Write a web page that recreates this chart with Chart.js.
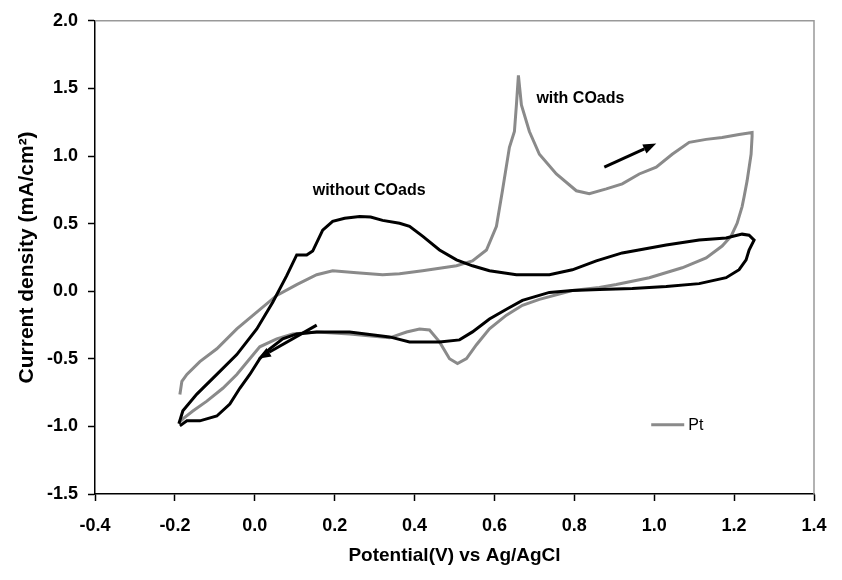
<!DOCTYPE html>
<html>
<head>
<meta charset="utf-8">
<script src="https://cdn.jsdelivr.net/npm/chart.js@4/dist/chart.umd.min.js"></script>
<style>
  html, body { margin: 0; padding: 0; background: #ffffff; }
  #cv { display: block; }
</style>
</head>
<body>
<canvas id="cv" width="842" height="580"></canvas>
<script>
// Cyclic voltammograms of Pt: blank scan (without adsorbed CO) and CO-stripping scan.
// Potential in V vs Ag/AgCl, current density in mA/cm².

const potentialBlank = [
  -0.19, -0.18, -0.145, -0.095, -0.045, 0.005, 0.045, 0.08, 0.105, 0.13, 0.145, 0.17, 0.195,
  0.225, 0.2625, 0.29, 0.32, 0.3625, 0.3875, 0.42, 0.4625, 0.505, 0.545, 0.5875, 0.655, 0.7375, 0.795,
  0.855, 0.92, 1.03, 1.1125, 1.18, 1.22, 1.2375, 1.25, 1.2375, 1.23, 1.2125, 1.18, 1.1125,
  1.03, 0.945, 0.8625, 0.795, 0.7375, 0.67, 0.63, 0.5875, 0.545, 0.5125, 0.4625, 0.3875,
  0.3375, 0.2375, 0.155, 0.105, 0.07, 0.0375, 0.0125, -0.0125, -0.0375, -0.0625, -0.095,
  -0.1375, -0.17, -0.1875
];
const currentBlank = [
  -0.98, -0.885, -0.761, -0.615, -0.469, -0.279, -0.082, 0.115, 0.268, 0.268, 0.297, 0.451, 0.517,
  0.54, 0.553, 0.548, 0.524, 0.502, 0.48, 0.407, 0.305, 0.232, 0.188, 0.151, 0.122, 0.122, 0.158,
  0.224, 0.283, 0.341, 0.378, 0.393, 0.422, 0.414, 0.378, 0.305, 0.232, 0.159, 0.1, 0.056,
  0.034, 0.02, 0.012, 0.005, -0.009, -0.068, -0.133, -0.206, -0.301, -0.36, -0.375, -0.375,
  -0.338, -0.301, -0.301, -0.316, -0.353, -0.426, -0.499, -0.616, -0.718, -0.835, -0.923,
  -0.959, -0.959, -0.996
];

const potentialCO = [
  -0.1875, -0.1825, -0.17, -0.1375, -0.095, -0.045, 0.005, 0.055, 0.105, 0.155, 0.195, 0.255,
  0.32, 0.3625, 0.42, 0.505, 0.545, 0.58, 0.605, 0.62, 0.6375, 0.65, 0.655, 0.66, 0.6675,
  0.6875, 0.7125, 0.755, 0.805, 0.8375, 0.88, 0.92, 0.9625, 1.005, 1.045, 1.0875, 1.13, 1.17,
  1.2125, 1.245, 1.245, 1.2425, 1.2325, 1.225, 1.22, 1.2075, 1.1925, 1.17, 1.13, 1.07, 0.9875,
  0.905, 0.8625, 0.795, 0.7125, 0.67, 0.63, 0.5875, 0.555, 0.53, 0.5075, 0.4875, 0.4625,
  0.4375, 0.4125, 0.38, 0.3375, 0.2375, 0.155, 0.095, 0.055, 0.0125, -0.0125, -0.045, -0.08,
  -0.12, -0.155, -0.18, -0.19
];
const currentCO = [
  -0.764, -0.667, -0.616, -0.521, -0.426, -0.279, -0.155, -0.031, 0.049, 0.122, 0.151, 0.137,
  0.122, 0.129, 0.151, 0.188, 0.224, 0.305, 0.48, 0.743, 1.064, 1.181, 1.378, 1.597, 1.378,
  1.181, 1.013, 0.867, 0.743, 0.721, 0.757, 0.794, 0.867, 0.918, 1.013, 1.101, 1.123, 1.137,
  1.159, 1.174, 1.145, 1.013, 0.816, 0.699, 0.626, 0.502, 0.407, 0.334, 0.246, 0.173, 0.1,
  0.049, 0.027, 0.005, -0.06, -0.104, -0.177, -0.279, -0.396, -0.499, -0.535, -0.499, -0.375,
  -0.287, -0.28, -0.302, -0.345, -0.316, -0.301, -0.316, -0.353, -0.411, -0.499, -0.616, -0.718,
  -0.813, -0.886, -0.944, -0.974
];

const xTickValues = [-0.4, -0.2, 0.0, 0.2, 0.4, 0.6, 0.8, 1.0, 1.2, 1.4];
const yTickValues = [-1.5, -1.0, -0.5, 0.0, 0.5, 1.0, 1.5, 2.0];

const seriesNames = ['without COads', 'Pt'];
const curveLabels = ['without COads', 'with COads'];
const xAxisTitle = 'Potential(V) vs Ag/AgCl';
const yAxisTitle = 'Current density (mA/cm²)';

const FONT = "'Liberation Sans', Arial, sans-serif";
const BLACK = '#000000';
const GREY = '#8a8a8a';

function toPoints(xs, ys) {
  return xs.map((x, i) => ({ x: x, y: ys[i] }));
}

// Plot-area frame, curve labels, sweep-direction arrows and the legend entry.
const decorations = {
  id: 'decorations',
  beforeDatasetsDraw(chart) {
    const { ctx, chartArea: a } = chart;
    ctx.save();
    ctx.strokeStyle = '#999999';
    ctx.lineWidth = 1.5;
    ctx.beginPath();
    ctx.moveTo(a.left, a.top);
    ctx.lineTo(a.right, a.top);
    ctx.lineTo(a.right, a.bottom);
    ctx.stroke();
    ctx.restore();
  },
  afterDatasetsDraw(chart) {
    const { ctx, scales: { x, y } } = chart;
    ctx.save();

    // curve labels
    ctx.fillStyle = BLACK;
    ctx.font = 'bold 16px ' + FONT;
    ctx.textAlign = 'left';
    ctx.textBaseline = 'middle';
    ctx.fillText(curveLabels[0], x.getPixelForValue(0.145), y.getPixelForValue(0.743));
    ctx.fillText(curveLabels[1], x.getPixelForValue(0.705), y.getPixelForValue(1.422));

    // sweep direction arrows
    const arrow = (x0, y0, x1, y1) => {
      const px0 = x.getPixelForValue(x0), py0 = y.getPixelForValue(y0);
      const px1 = x.getPixelForValue(x1), py1 = y.getPixelForValue(y1);
      const ang = Math.atan2(py1 - py0, px1 - px0);
      const head = 13, half = 5;
      const bx = px1 - head * Math.cos(ang), by = py1 - head * Math.sin(ang);
      ctx.strokeStyle = BLACK;
      ctx.lineWidth = 3;
      ctx.beginPath();
      ctx.moveTo(px0, py0);
      ctx.lineTo(bx, by);
      ctx.stroke();
      ctx.fillStyle = BLACK;
      ctx.beginPath();
      ctx.moveTo(px1, py1);
      ctx.lineTo(bx + half * Math.sin(ang), by - half * Math.cos(ang));
      ctx.lineTo(bx - half * Math.sin(ang), by + half * Math.cos(ang));
      ctx.closePath();
      ctx.fill();
    };
    arrow(0.875, 0.917, 1.005, 1.092);
    arrow(0.155, -0.251, 0.0075, -0.499);

    // legend entry for the CO-stripping curve
    const lx = x.getPixelForValue(0.9925), ly = y.getPixelForValue(-0.988);
    ctx.strokeStyle = GREY;
    ctx.lineWidth = 3;
    ctx.beginPath();
    ctx.moveTo(lx, ly);
    ctx.lineTo(lx + 33, ly);
    ctx.stroke();
    ctx.fillStyle = BLACK;
    ctx.font = '16px ' + FONT;
    ctx.textBaseline = 'middle';
    ctx.fillText(seriesNames[1], lx + 37, ly + 1);

    ctx.restore();
  }
};

new Chart(document.getElementById('cv'), {
  type: 'scatter',
  data: {
    datasets: [
      {
        label: seriesNames[0],
        data: toPoints(potentialBlank, currentBlank),
        showLine: true,
        borderColor: BLACK,
        borderWidth: 3,
        pointRadius: 0,
        tension: 0,
        fill: false
      },
      {
        label: seriesNames[1],
        data: toPoints(potentialCO, currentCO),
        showLine: true,
        borderColor: GREY,
        borderWidth: 3,
        pointRadius: 0,
        tension: 0,
        fill: false
      }
    ]
  },
  options: {
    responsive: false,
    animation: false,
    devicePixelRatio: 1,
    layout: { padding: { top: 15, right: 28, left: 0, bottom: 0 } },
    plugins: {
      legend: { display: false },
      tooltip: { enabled: false }
    },
    scales: {
      x: {
        type: 'linear',
        min: -0.4,
        max: 1.4,
        afterBuildTicks(scale) { scale.ticks = xTickValues.map(v => ({ value: v })); },
        afterFit(scale) { scale.height = 86; },
        border: { display: true, color: BLACK, width: 1.5 },
        grid: { drawOnChartArea: false, drawTicks: true, tickLength: 7, color: BLACK, tickWidth: 1.5 },
        ticks: {
          color: BLACK,
          padding: 14,
          maxRotation: 0,
          font: { family: FONT, size: 18, weight: 'bold' },
          callback: v => v.toFixed(1)
        },
        title: {
          display: true,
          text: xAxisTitle,
          color: BLACK,
          font: { family: FONT, size: 19, weight: 'bold' },
          padding: { top: 4, bottom: 13 }
        }
      },
      y: {
        type: 'linear',
        min: -1.5,
        max: 2.0,
        afterBuildTicks(scale) { scale.ticks = yTickValues.map(v => ({ value: v })); },
        afterFit(scale) { scale.width = 95; },
        border: { display: true, color: BLACK, width: 1.5 },
        grid: { drawOnChartArea: false, drawTicks: true, tickLength: 7, color: BLACK, tickWidth: 1.5 },
        ticks: {
          color: BLACK,
          padding: 10,
          font: { family: FONT, size: 18, weight: 'bold' },
          callback: v => v.toFixed(1)
        },
        title: {
          display: true,
          text: yAxisTitle,
          color: BLACK,
          font: { family: FONT, size: 21, weight: 'bold' },
          padding: { top: 15, bottom: 4 }
        }
      }
    }
  },
  plugins: [decorations]
});
</script>
</body>
</html>
